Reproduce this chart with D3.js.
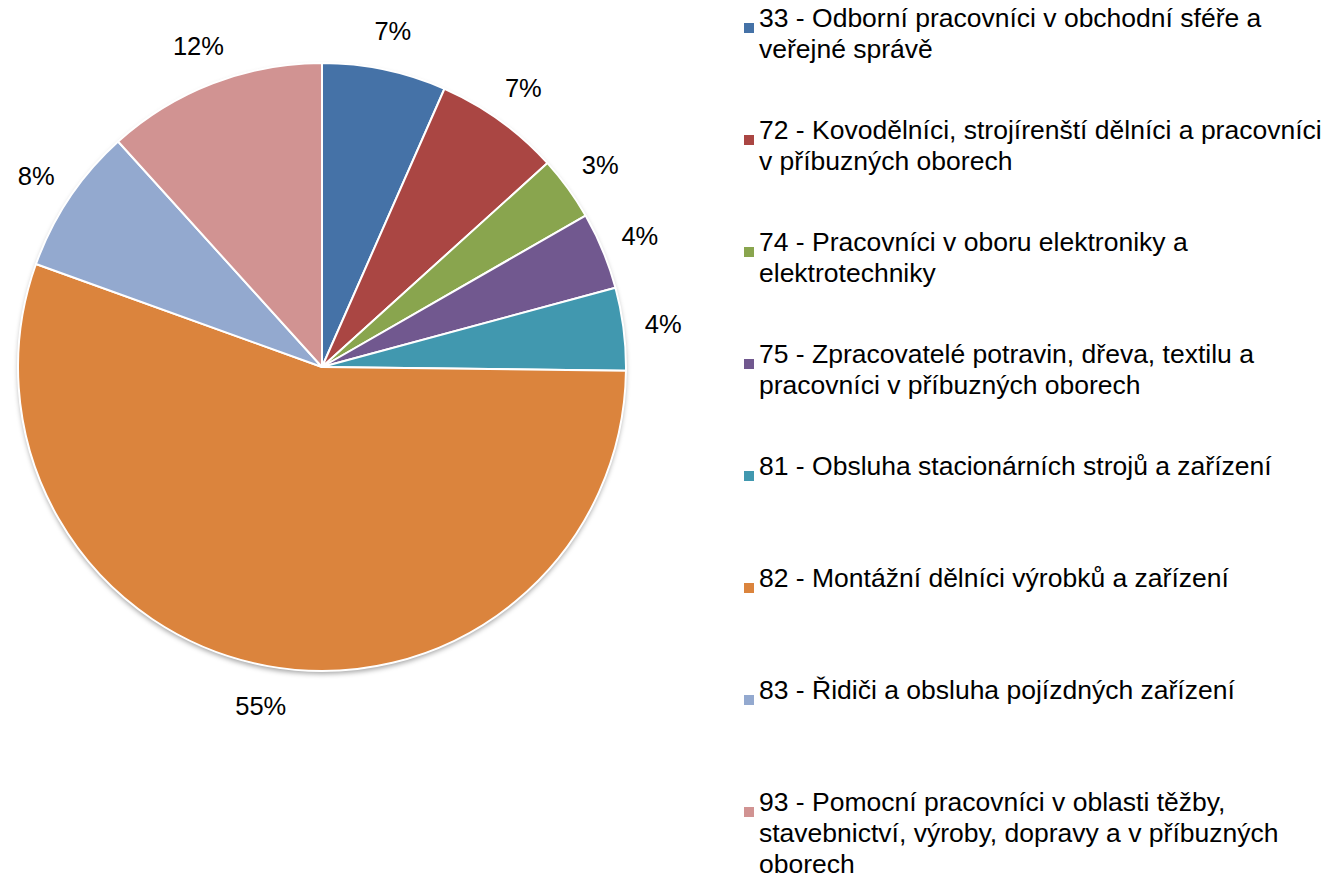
<!DOCTYPE html>
<html>
<head>
<meta charset="utf-8">
<script src="https://cdn.jsdelivr.net/npm/d3@7"></script>
<style>
  body { margin: 0; background: #fff; }
  text { font-family: "Liberation Sans", Arial, sans-serif; fill: #000; }
</style>
</head>
<body>
<svg id="chart" width="1330" height="882"></svg>
<script>
// categories (CZ-ISCO groups) and their share in percent
var categories = [
  "33 - Odborní pracovníci v obchodní sféře a veřejné správě",
  "72 - Kovodělníci, strojírenští dělníci a pracovníci v příbuzných oborech",
  "74 - Pracovníci v oboru elektroniky a elektrotechniky",
  "75 - Zpracovatelé potravin, dřeva, textilu a pracovníci v příbuzných oborech",
  "81 - Obsluha stacionárních strojů a zařízení",
  "82 - Montážní dělníci výrobků a zařízení",
  "83 - Řidiči a obsluha pojízdných zařízení",
  "93 - Pomocní pracovníci v oblasti těžby, stavebnictví, výroby, dopravy a v příbuzných oborech"
];
var shares = [6.6, 6.7, 3.4, 4.1, 4.4, 55.3, 7.8, 11.7];
var colors = ["#4572A7", "#AA4643", "#89A54E", "#71588F", "#4198AF", "#DB843D", "#93A9CF", "#D19392"];

var svg = d3.select("#chart"),
    cx = 322, cy = 367, radius = 304;

var defs = svg.append("defs");
var f = defs.append("filter").attr("id", "shadow")
    .attr("x", "-10%").attr("y", "-10%").attr("width", "120%").attr("height", "120%");
f.append("feDropShadow").attr("dx", 0).attr("dy", 3).attr("stdDeviation", 2.5)
    .attr("flood-color", "#000").attr("flood-opacity", 0.35);

var data = categories.map(function(c, i) { return { name: c, value: shares[i], color: colors[i] }; });

var pie = d3.pie().sort(null).value(function(d) { return d.value; });
var arc = d3.arc().innerRadius(0).outerRadius(radius);
var arcs = pie(data);
var total = d3.sum(shares);

var g = svg.append("g").attr("transform", "translate(" + cx + "," + cy + ")");

g.append("circle").attr("r", radius).attr("fill", "#fff").attr("filter", "url(#shadow)");

g.selectAll("path.slice")
  .data(arcs)
  .enter().append("path")
    .attr("class", "slice")
    .attr("d", arc)
    .attr("fill", function(d) { return d.data.color; })
    .attr("stroke", "#fff")
    .attr("stroke-width", 2)
    .attr("stroke-linejoin", "round");

// percentage labels outside the pie
var labelR = radius + 40;
g.selectAll("text.pct")
  .data(arcs)
  .enter().append("text")
    .attr("class", "pct")
    .attr("x", function(d) { var a = (d.startAngle + d.endAngle) / 2; return Math.sin(a) * labelR; })
    .attr("y", function(d) { var a = (d.startAngle + d.endAngle) / 2; return -Math.cos(a) * labelR; })
    .attr("dy", "0.36em")
    .attr("text-anchor", "middle")
    .style("font-size", "25.5px")
    .text(function(d) { return Math.round(d.data.value / total * 100) + "%"; });

// legend
var legend = svg.append("g").attr("transform", "translate(744,0)");
var slot = 112, firstY = 27, lineH = 31, maxW = 572;

var item = legend.selectAll("g.item")
  .data(data)
  .enter().append("g")
    .attr("class", "item")
    .attr("transform", function(d, i) { return "translate(0," + (firstY + i * slot) + ")"; });

item.append("rect")
    .attr("x", 0).attr("y", -4).attr("width", 10).attr("height", 10)
    .attr("fill", function(d) { return d.color; });

item.each(function(d) {
  var t = d3.select(this).append("text")
      .attr("x", 15).attr("y", 0).attr("dy", "0.36em")
      .style("font-size", "26.5px");
  var words = d.name.split(" "), line = [], n = 0;
  var ts = t.append("tspan").attr("x", 15).attr("dy", 0);
  words.forEach(function(w) {
    line.push(w);
    ts.text(line.join(" "));
    if (ts.node().getComputedTextLength() > maxW && line.length > 1) {
      line.pop();
      ts.text(line.join(" "));
      line = [w];
      n++;
      ts = t.append("tspan").attr("x", 15).attr("y", n * lineH).text(w);
    }
  });
});
</script>
</body>
</html>
